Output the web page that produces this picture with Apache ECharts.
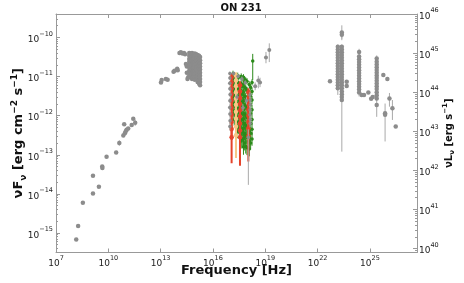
<!DOCTYPE html>
<html><head><meta charset="utf-8">
<script src="https://cdn.jsdelivr.net/npm/echarts/dist/echarts.min.js"></script>
<style>html,body{margin:0;padding:0;background:#fff}#c{width:464px;height:283px}</style>
</head><body><div id="c"></div>
<script>
// All values in log10 units: [log10 nu (Hz), log10 nuFnu (erg cm^-2 s^-1), err_down, err_up]
const xTickExp = [7, 10, 13, 16, 19, 22, 25];
const yTickExp = [-15, -14, -13, -12, -11, -10];
const lumTickExp = [40, 41, 42, 43, 44, 45, 46];
const lumOffset = 55.4;   // log10(4 pi d^2)

const radioSED = [
  [8.16,-15.17],[8.27,-14.82],[8.54,-14.23],[9.12,-13.99],[9.12,-13.54],[9.46,-13.82],
  [9.65,-13.30],[9.66,-13.34],[9.90,-13.05],[10.45,-12.94,0.04],[10.63,-12.70,0.07],
  [10.86,-12.51],[10.95,-12.45],[10.91,-12.22],[11.00,-12.40],[11.05,-12.36],[11.14,-12.33],
  [11.34,-12.24],[11.43,-12.08],[11.54,-12.18,0.08]
];
const irSED = [
  [13.02,-11.15],[13.06,-11.09],[13.30,-11.06],[13.40,-11.08],[13.74,-10.88],[13.80,-10.85],
  [13.95,-10.80],[13.98,-10.84],[14.08,-10.40],[14.16,-10.38],[14.25,-10.41],[14.34,-10.40],
  [14.40,-10.43],[14.45,-10.68],[14.50,-10.74],[14.50,-10.90],[14.54,-11.06],[14.58,-11.02]
];
const optNu = [14.64, 14.72, 14.80, 14.88, 14.96, 15.04, 15.12, 15.20, 15.26];
const optFlux = [
  [-10.40,-10.47,-10.55,-10.62,-10.70,-10.77,-10.85,-10.92,-11.00],
  [-10.41,-10.48,-10.56,-10.63,-10.71,-10.79,-10.86,-10.94,-11.02],
  [-10.40,-10.48,-10.55,-10.63,-10.70,-10.78,-10.86,-10.93,-11.01,-11.06],
  [-10.42,-10.49,-10.57,-10.64,-10.72,-10.80,-10.88,-10.95,-11.03],
  [-10.41,-10.49,-10.56,-10.64,-10.72,-10.79,-10.87,-10.95,-11.02,-11.08],
  [-10.43,-10.50,-10.58,-10.66,-10.73,-10.81,-10.89,-10.97,-11.04],
  [-10.45,-10.52,-10.60,-10.68,-10.76,-10.84,-10.92,-11.00,-11.08,-11.14],
  [-10.47,-10.55,-10.63,-10.71,-10.79,-10.87,-10.95,-11.03,-11.11,-11.18],
  [-10.50,-10.58,-10.66,-10.74,-10.82,-10.90,-10.98,-11.06,-11.14,-11.22]
];
const xrayGray = [
  [16.97,-10.92,0.05],[16.97,-11.04,0.05],[16.96,-11.17,0.06],[16.97,-11.31,0.06],[16.98,-11.46,0.07],
  [16.97,-11.62,0.07],[16.96,-11.79,0.08],[16.97,-11.96,0.08],[16.98,-12.13,0.09],[16.97,-12.28,0.1],
  [17.18,-10.92,0.05],[17.44,-10.99,0.05],[17.66,-11.06,0.06],[17.85,-11.16,0.06],
  [17.38,-11.52,0.08],[17.72,-11.80,0.09],[17.92,-11.62,0.09],
  [18.12,-11.47,0.08],[18.13,-11.60,0.08],[18.14,-11.72,0.09],[18.13,-11.85,0.09],
  [18.12,-11.98,0.1],[18.14,-12.10,0.1],[18.13,-12.20,0.1],[18.03,-12.55,1.22,0.2]
];
const xrayRed = [
  [17.07,-11.02,0.10],[17.07,-11.15,0.11],[17.07,-11.30,0.12],[17.07,-11.46,0.13],[17.07,-11.62,0.15],
  [17.07,-11.80,0.17],[17.07,-11.98,0.2],[17.07,-12.16,0.24],[17.07,-12.34,0.28],[17.07,-12.55,0.67,0.3],
  [17.55,-11.22,0.10],[17.55,-11.38,0.12],[17.55,-11.55,0.13],[17.55,-11.70,0.15],[17.55,-11.86,0.17],
  [17.55,-12.02,0.2],[17.55,-12.20,0.22],[17.55,-12.38,0.26],[17.55,-12.55,0.73,0.3],
  [18.03,-11.40,0.10],[18.03,-11.55,0.12],[18.03,-11.70,0.13],[18.03,-11.85,0.15],[18.03,-12.00,0.17],
  [18.03,-12.16,0.2],[18.03,-12.32,0.22],[18.03,-12.52,0.65,0.26]
];
const xrayOrange = [
  [17.32,-10.97,0.08],[17.32,-11.10,0.1],[17.32,-11.24,0.11],[17.32,-11.40,0.12],[17.32,-11.56,0.14],
  [17.32,-11.72,0.16],[17.32,-11.90,0.18],[17.32,-12.08,0.2],[17.32,-12.28,0.24],[17.32,-12.50,0.58,0.28]
];
const xrayGreen = [
  [17.15,-10.93,0.08],[17.15,-11.05,0.09],[17.15,-11.20,0.1],[17.15,-11.38,0.11],[17.15,-11.55,0.12],[17.15,-11.75,0.13],[17.15,-11.95,0.15],
  [17.22,-10.96,0.08],[17.22,-11.12,0.09],[17.22,-11.30,0.1],[17.22,-11.48,0.11],[17.22,-11.68,0.12],[17.22,-11.88,0.14],[17.22,-12.10,0.16],
  [17.42,-10.98,0.08],[17.42,-11.15,0.09],[17.42,-11.32,0.1],[17.42,-11.50,0.11],[17.42,-11.70,0.12],[17.42,-11.92,0.14],[17.42,-12.15,0.16],[17.42,-12.40,0.18],
  [17.48,-11.02,0.08],[17.48,-11.20,0.09],[17.48,-11.40,0.1],[17.48,-11.60,0.12],[17.48,-11.82,0.13],[17.48,-12.05,0.15],[17.48,-12.30,0.17],
  [17.62,-11.00,0.08],[17.62,-11.18,0.09],[17.62,-11.36,0.1],[17.62,-11.55,0.11],[17.62,-11.75,0.12],[17.62,-11.95,0.14],[17.62,-12.18,0.15],[17.62,-12.42,0.17],[17.62,-12.65,0.19],
  [17.68,-11.05,0.08],[17.68,-11.25,0.09],[17.68,-11.45,0.1],[17.68,-11.65,0.12],[17.68,-11.88,0.13],[17.68,-12.10,0.15],[17.68,-12.35,0.17],[17.68,-12.60,0.19],
  [17.75,-11.02,0.08],[17.75,-11.20,0.09],[17.75,-11.40,0.1],[17.75,-11.62,0.12],[17.75,-11.85,0.13],[17.75,-12.08,0.15],[17.75,-12.32,0.17],[17.75,-12.58,0.19],[17.75,-12.80,0.2],
  [17.82,-11.08,0.08],[17.82,-11.28,0.09],[17.82,-11.50,0.1],[17.82,-11.72,0.12],[17.82,-11.95,0.13],[17.82,-12.20,0.15],[17.82,-12.45,0.17],[17.82,-12.70,0.19],
  [17.88,-11.10,0.08],[17.88,-11.30,0.09],[17.88,-11.52,0.1],[17.88,-11.75,0.12],[17.88,-12.00,0.13],[17.88,-12.25,0.15],[17.88,-12.50,0.17],[17.88,-12.78,0.19],
  [17.95,-11.12,0.08],[17.95,-11.35,0.09],[17.95,-11.58,0.1],[17.95,-11.82,0.12],[17.95,-12.05,0.13],[17.95,-12.30,0.15],[17.95,-12.55,0.17],[17.95,-12.82,0.19],
  [18.08,-11.20,0.08],[18.08,-11.42,0.09],[18.08,-11.65,0.1],[18.08,-11.90,0.12],[18.08,-12.15,0.13],[18.08,-12.40,0.15],[18.08,-12.65,0.17],[18.08,-12.85,0.19],
  [18.16,-11.28,0.08],[18.16,-11.50,0.09],[18.16,-11.72,0.1],[18.16,-11.95,0.12],[18.16,-12.20,0.13],[18.16,-12.45,0.15],[18.16,-12.70,0.17],
  [18.24,-11.15,0.08],[18.24,-11.38,0.09],[18.24,-11.60,0.1],[18.24,-11.85,0.12],[18.24,-12.10,0.13],[18.24,-12.35,0.15],[18.24,-12.60,0.17],
  [18.28,-10.60,0.49,0.18]
];
const hardXray = [
  [18.42,-11.25,0.1],[18.60,-11.10,0.2,0.12],[18.70,-11.15,0.12],[19.04,-10.51,0.15,0.14],[19.23,-10.32,0.31,0.17]
];
const gammaSED = [
  [22.71,-11.12],
  [23.16,-10.24,0.06],[23.16,-10.31,0.06],[23.16,-10.38,0.06],[23.16,-10.45,0.06],[23.16,-10.52,0.06],[23.16,-10.59,0.06],
  [23.16,-10.66,0.06],[23.16,-10.73,0.06],[23.16,-10.80,0.06],[23.16,-10.87,0.06],[23.16,-10.94,0.06],[23.16,-11.01,0.06],
  [23.16,-11.08,0.06],[23.16,-11.15,0.06],[23.16,-11.22,0.06],[23.16,-11.30,0.17,0.06],
  [23.39,-9.87,0.2,0.18],[23.39,-9.93,0.1],[23.39,-10.24,0.06],[23.39,-10.31,0.06],[23.39,-10.38,0.06],[23.39,-10.45,0.06],
  [23.39,-10.52,0.06],[23.39,-10.59,0.06],[23.39,-10.66,0.06],[23.39,-10.73,0.06],[23.39,-10.80,0.06],[23.39,-10.87,0.06],
  [23.39,-10.94,0.06],[23.39,-11.01,0.06],[23.39,-11.08,0.06],[23.39,-11.15,0.06],[23.39,-11.22,0.06],[23.39,-11.30,0.06],
  [23.39,-11.38,0.06],[23.39,-11.45,0.06],[23.39,-11.52,0.06],[23.39,-11.60,1.32,0.06],
  [23.67,-11.13],[23.67,-11.24],
  [24.38,-10.37,0.08],[24.38,-10.49,0.06],[24.38,-10.56,0.06],[24.38,-10.63,0.06],[24.38,-10.70,0.06],[24.38,-10.77,0.06],
  [24.38,-10.84,0.06],[24.38,-10.91,0.06],[24.38,-10.98,0.06],[24.38,-11.05,0.06],[24.38,-11.12,0.06],[24.38,-11.19,0.06],
  [24.38,-11.26,0.06],[24.38,-11.33,0.06],[24.38,-11.41,0.1,0.06],
  [24.53,-11.47],[24.66,-11.47],[24.91,-11.41],[25.07,-11.57],[25.16,-11.52],
  [25.39,-10.54,0.08],[25.39,-10.62,0.06],[25.39,-10.69,0.06],[25.39,-10.76,0.06],[25.39,-10.83,0.06],[25.39,-10.90,0.06],
  [25.39,-10.97,0.06],[25.39,-11.04,0.06],[25.39,-11.11,0.06],[25.39,-11.18,0.06],[25.39,-11.25,0.06],[25.39,-11.32,0.06],
  [25.39,-11.40,0.06],[25.39,-11.48,0.06],[25.39,-11.56,0.06],[25.39,-11.73,0.3,0.12],
  [25.77,-10.96,0.05],[26.00,-11.06,0.05],[25.87,-11.94,0.72,0.25],[25.87,-11.98],
  [26.12,-11.56,0.21,0.14],[26.29,-11.81,0.30,0.21],[26.48,-12.28]
];

// ---------- helpers ----------
const FONT = 'DejaVu Sans';
function norm(rows){ return rows.map(r => [r[0], r[1], r[2] || 0, r.length > 3 ? r[3] : (r[2] || 0)]); }
function flattenCols(nus, cols){ const out = []; nus.forEach((n, i) => cols[i].forEach(f => out.push([n, f]))); return out; }
const optSED = flattenCols(optNu, optFlux);

function errSeries(rows, color, w, z){
  return {type:'custom', xAxisIndex:0, yAxisIndex:0, data:norm(rows), z:z, silent:true, clip:true,
    renderItem:(p, api) => {
      const x = api.value(0), y = api.value(1), d = api.value(2), u = api.value(3);
      if (!(d > 0 || u > 0)) return {type:'group', children:[]};
      const a = api.coord([x, y - d]), b = api.coord([x, y + u]);
      return {type:'line', shape:{x1:a[0], y1:a[1], x2:b[0], y2:b[1]}, style:{stroke:color, lineWidth:w}};
    }};
}
function ptSeries(rows, color, size, z){
  return {type:'scatter', xAxisIndex:0, yAxisIndex:0, data:rows.map(r => [r[0], r[1]]),
    symbolSize:size, itemStyle:{color:color, opacity:1}, z:z, silent:true, clip:true};
}
function supLabel(v){ return '{b|10}{s|' + String(Math.round(v)).replace('-', '\u2212') + '}'; }
const supRich = {
  b:{fontSize:9, fontFamily:FONT, color:'#222', lineHeight:14, verticalAlign:'bottom'},
  s:{fontSize:6.5, fontFamily:FONT, color:'#222', lineHeight:7, verticalAlign:'top'}
};
function minorTicks(lo, hi){
  const out = [];
  for (let n = Math.floor(lo); n <= Math.ceil(hi); n++) for (let k = 2; k <= 9; k++) {
    const v = n + Math.log10(k); if (v > lo && v < hi) out.push(v);
  }
  return out;
}
const AX = '#999';
const yMin = -15.5, yMax = -9.4, xMin = 7, xMax = 27.7;

const gray = '#8c8c8c', grayErr = '#a9a9a9', red = '#e5432a', orange = '#f6c886', green = '#2b8a1a';

const option = {
  animation:false,
  backgroundColor:'#fff',
  title:{text:'ON 231', left:236, top:-2, textAlign:'center',
    textStyle:{fontFamily:FONT, fontSize:10, fontWeight:'bold', color:'#111'}},
  grid:{left:56, top:14, width:361, height:238.5, containLabel:false, outerBoundsMode:'none'},
  xAxis:[
    {type:'value', min:xMin, max:xMax, position:'bottom',
      axisLine:{lineStyle:{color:AX}}, splitLine:{show:false},
      axisTick:{inside:true, length:4, customValues:xTickExp, lineStyle:{color:AX}},
      axisLabel:{customValues:xTickExp, formatter:supLabel, rich:supRich, margin:2},
      name:'Frequency [Hz]', nameLocation:'middle', nameGap:12, nameMoveOverlap:false,
      nameTextStyle:{fontFamily:FONT, fontSize:13, fontWeight:'bold', color:'#111'}},
    {type:'value', min:xMin, max:xMax, position:'top',
      axisLine:{lineStyle:{color:AX}}, splitLine:{show:false},
      axisTick:{inside:true, length:4, customValues:xTickExp, lineStyle:{color:AX}},
      axisLabel:{show:false}}
  ],
  yAxis:[
    {type:'value', min:yMin, max:yMax, position:'left',
      axisLine:{show:true, lineStyle:{color:AX}}, splitLine:{show:false},
      axisTick:{show:true, inside:true, length:4, customValues:yTickExp, lineStyle:{color:AX}},
      axisLabel:{customValues:yTickExp, formatter:supLabel, rich:supRich, margin:3},
      name:'{a|\u03BDF}{sb|\u03BD}{a| [erg cm}{sp|\u22122}{a| s}{sp|\u22121}{a|]}',
      nameLocation:'middle', nameGap:28, nameRotate:90, nameMoveOverlap:false,
      nameTextStyle:{rich:{
        a:{fontFamily:FONT, fontSize:13, fontWeight:'bold', color:'#111', lineHeight:18},
        sb:{fontFamily:FONT, fontSize:9, fontWeight:'bold', color:'#111', lineHeight:10, verticalAlign:'bottom'},
        sp:{fontFamily:FONT, fontSize:9, fontWeight:'bold', color:'#111', lineHeight:10, verticalAlign:'top'}}}},
    {type:'value', min:yMin, max:yMax, position:'left',
      axisLine:{show:false}, splitLine:{show:false}, axisLabel:{show:false},
      axisTick:{show:true, inside:true, length:2, customValues:minorTicks(yMin, yMax), lineStyle:{color:AX}}},
    {type:'value', min:yMin + lumOffset, max:yMax + lumOffset, position:'right',
      axisLine:{show:true, lineStyle:{color:AX}}, splitLine:{show:false},
      axisTick:{show:true, inside:true, length:4, customValues:lumTickExp, lineStyle:{color:AX}},
      axisLabel:{customValues:lumTickExp, formatter:supLabel, rich:supRich, margin:2},
      name:'{a|\u03BDL}{sb|\u03BD}{a| [erg s}{sp|\u22121}{a|]}',
      nameLocation:'middle', nameGap:25, nameRotate:90, nameMoveOverlap:false,
      nameTextStyle:{rich:{
        a:{fontFamily:FONT, fontSize:10, fontWeight:'bold', color:'#111', lineHeight:14},
        sb:{fontFamily:FONT, fontSize:7, fontWeight:'bold', color:'#111', lineHeight:8, verticalAlign:'bottom'},
        sp:{fontFamily:FONT, fontSize:7, fontWeight:'bold', color:'#111', lineHeight:8, verticalAlign:'top'}}}},
    {type:'value', min:yMin + lumOffset, max:yMax + lumOffset, position:'right',
      axisLine:{show:false}, splitLine:{show:false}, axisLabel:{show:false},
      axisTick:{show:true, inside:true, length:2, customValues:minorTicks(yMin + lumOffset, yMax + lumOffset), lineStyle:{color:AX}}}
  ],
  series:[
    errSeries(radioSED, grayErr, 1, 2), ptSeries(radioSED, gray, 4.5, 3),
    ptSeries(irSED, gray, 4.5, 3), ptSeries(optSED, gray, 4.5, 3),
    errSeries(xrayGreen, green, 1, 4), ptSeries(xrayGreen, green, 3.5, 5),
    errSeries(xrayOrange, orange, 2, 6), ptSeries(xrayOrange, orange, 4.5, 7),
    errSeries(xrayRed, red, 2, 8), ptSeries(xrayRed, red, 4.5, 9),
    errSeries(xrayGray, grayErr, 1, 10), ptSeries(xrayGray, gray, 3.5, 11),
    errSeries(hardXray, grayErr, 1, 10), ptSeries(hardXray, gray, 4, 11),
    errSeries(gammaSED, grayErr, 1, 10), ptSeries(gammaSED, gray, 4.5, 11)
  ]
};
const chart = echarts.init(document.getElementById('c'), null, {renderer:'canvas'});
chart.setOption(option);
</script>
</body></html>
